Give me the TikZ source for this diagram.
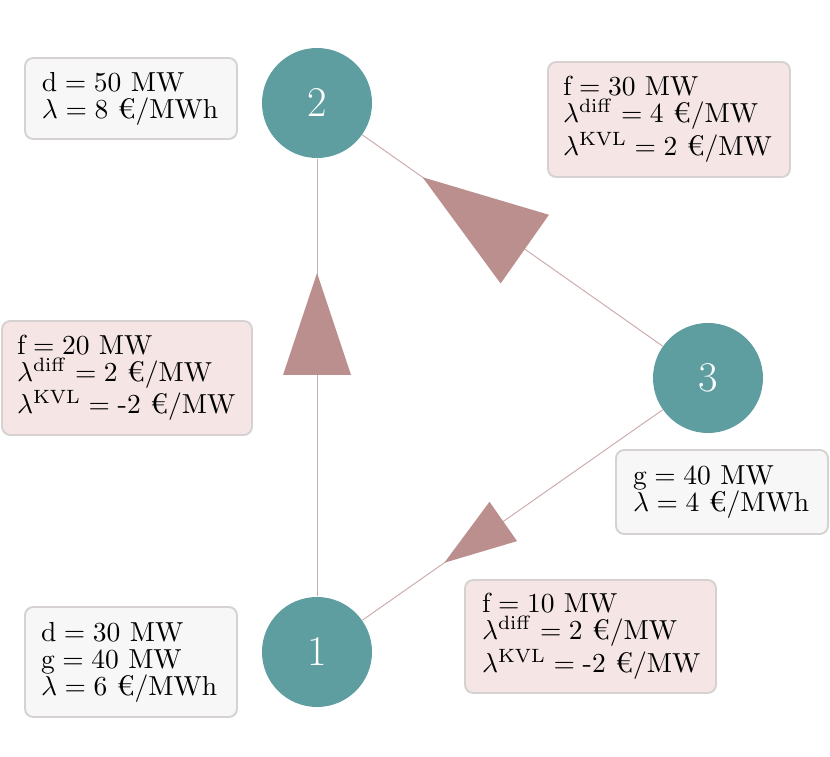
\documentclass[tikz,border=0pt]{standalone}
\usepackage{amsmath}
\usetikzlibrary{calc}
\definecolor{busfill}{HTML}{5F9EA0}
\definecolor{flowcol}{HTML}{BC8F8F}
\definecolor{boxgray}{HTML}{F7F7F7}
\definecolor{boxpink}{HTML}{F5E5E5}
\definecolor{boxline}{HTML}{D6D2D2}
\def\pxu{0.36364pt}
\tikzset{
  bus/.style={circle,fill=busfill,draw=none,minimum size={110*\pxu},inner sep=0pt,
    text=white,font=\fontsize{15.4}{18}\selectfont},
  infobox/.style={rounded corners=3pt,draw=boxline,line width=0.7pt,align=left,
    inner xsep=0pt,inner ysep=0pt,font=\fontsize{10.3}{9.8}\selectfont},
  nodebox/.style={infobox,fill=boxgray},
  linebox/.style={infobox,fill=boxpink},
  lineedge/.style={draw=flowcol!75,line width=0.35pt},
  flowtip/.style={fill=flowcol,draw=none}
}
\begin{document}
\begin{tikzpicture}[x=\pxu,y=-\pxu]
\useasboundingbox (0,0) rectangle (830,757);
% buses
\node[bus] (n1) at (317,652) {1};
\node[bus] (n2) at (317,103) {2};
\node[bus] (n3) at (708,378) {3};
% lines
\draw[lineedge] (n1) -- (n2);
\draw[lineedge] (n3) -- (n2);
\draw[lineedge] (n3) -- (n1);
% flow arrows
\coordinate (b12) at ($(n1)!277*\pxu!(n2)$);
\coordinate (t12) at ($(n1)!379*\pxu!(n2)$);
\fill[flowtip] (t12) -- ($(b12)!34*\pxu!90:(n2)$) -- ($(b12)!34*\pxu!-90:(n2)$) -- cycle;
\coordinate (b32) at ($(n3)!224*\pxu!(n2)$);
\coordinate (t32) at ($(n3)!349*\pxu!(n2)$);
\fill[flowtip] (t32) -- ($(b32)!42*\pxu!90:(n2)$) -- ($(b32)!42*\pxu!-90:(n2)$) -- cycle;
\coordinate (b31) at ($(n3)!250*\pxu!(n1)$);
\coordinate (t31) at ($(n3)!322*\pxu!(n1)$);
\fill[flowtip] (t31) -- ($(b31)!24*\pxu!90:(n1)$) -- ($(b31)!24*\pxu!-90:(n1)$) -- cycle;
% info boxes
\node[nodebox,minimum width={212*\pxu},minimum height={81*\pxu},text width={178*\pxu}] (i2) at (131,98.5)
  {\mbox{$\mathrm{d} = 50\ \mathrm{MW}$}\\\mbox{$\lambda = 8\ \text{€}/\mathrm{MWh}$}};
\node[nodebox,minimum width={212*\pxu},minimum height={110*\pxu},text width={180*\pxu}] (i1) at (131,662)
  {\mbox{$\mathrm{d} = 30\ \mathrm{MW}$}\\\mbox{$\mathrm{g} = 40\ \mathrm{MW}$}\\\mbox{$\lambda = 6\ \text{€}/\mathrm{MWh}$}};
\node[nodebox,minimum width={212*\pxu},minimum height={84*\pxu},text width={178*\pxu}] (i3) at (722,492)
  {\mbox{$\mathrm{g} = 40\ \mathrm{MW}$}\\\mbox{$\lambda = 4\ \text{€}/\mathrm{MWh}$}};
\node[linebox,minimum width={242*\pxu},minimum height={115*\pxu},text width={212*\pxu}] (l32) at (669,119.5)
  {\mbox{$\mathrm{f} = 30\ \mathrm{MW}$}\\\mbox{$\lambda^{\mathrm{diff}} = 4\ \text{€}/\mathrm{MW}$}\\\mbox{$\lambda^{\mathrm{KVL}} = 2\ \text{€}/\mathrm{MW}$}};
\node[linebox,minimum width={250*\pxu},minimum height={114*\pxu},text width={220*\pxu}] (l12) at (127,378)
  {\mbox{$\mathrm{f} = 20\ \mathrm{MW}$}\\\mbox{$\lambda^{\mathrm{diff}} = 2\ \text{€}/\mathrm{MW}$}\\\mbox{$\lambda^{\mathrm{KVL}} = \text{-}2\ \text{€}/\mathrm{MW}$}};
\node[linebox,minimum width={251*\pxu},minimum height={113*\pxu},text width={217*\pxu}] (l31) at (590.5,636.5)
  {\mbox{$\mathrm{f} = 10\ \mathrm{MW}$}\\\mbox{$\lambda^{\mathrm{diff}} = 2\ \text{€}/\mathrm{MW}$}\\\mbox{$\lambda^{\mathrm{KVL}} = \text{-}2\ \text{€}/\mathrm{MW}$}};
\end{tikzpicture}
\end{document}
